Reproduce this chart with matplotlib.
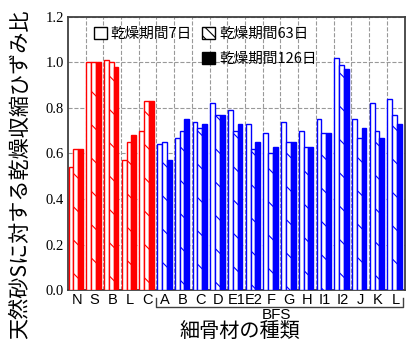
import numpy as np
import matplotlib.pyplot as plt
from matplotlib.patches import Patch
from matplotlib.transforms import blended_transform_factory

plt.rcParams['font.family'] = ['Noto Sans CJK JP', 'DejaVu Sans']
plt.rcParams['hatch.linewidth'] = 0.8

# categories (first 5 = natural / other sands, rest = BFS)
labels = ['N', 'S', 'B', 'L', 'C', 'A', 'B', 'C', 'D', 'E1', 'E2',
          'F', 'G', 'H', 'I1', 'I2', 'J', 'K', 'L']
n_red = 5
# shrinkage ratio vs natural sand S
day7 = [0.54, 1.00, 1.01, 0.57, 0.70, 0.64, 0.67, 0.74, 0.82, 0.79, 0.73,
        0.69, 0.74, 0.70, 0.75, 1.02, 0.75, 0.82, 0.84]
day63 = [0.62, 1.00, 1.00, 0.65, 0.83, 0.65, 0.70, 0.71, 0.77, 0.70, 0.62,
         0.60, 0.65, 0.63, 0.69, 0.99, 0.67, 0.70, 0.77]
day126 = [0.62, 1.00, 0.98, 0.68, 0.83, 0.57, 0.75, 0.73, 0.77, 0.73, 0.65,
          0.63, 0.65, 0.63, 0.69, 0.97, 0.71, 0.67, 0.73]
legend_labels = ['乾燥期間7日', '乾燥期間63日', '乾燥期間126日']

fig = plt.figure(figsize=(4.09, 3.43), dpi=100)
ax = fig.add_axes([0.166, 0.1545, 0.823, 0.796])

x = np.arange(len(labels))
cols = ['#ff0000'] * n_red + ['#0000ff'] * (len(labels) - n_red)
w = 0.27
off = 0.04

ax.bar(x + off, day7, width=w, align='edge', facecolor='white',
       edgecolor=cols, linewidth=1.0, zorder=3)
ax.bar(x + off + w, day63, width=w, align='edge', facecolor='white',
       edgecolor=cols, linewidth=1.0, hatch='\\', zorder=3)
ax.bar(x + off + 2 * w, day126, width=w, align='edge', color=cols,
       edgecolor=cols, linewidth=1.0, zorder=3)

ax.set_xlim(0, len(labels))
ax.set_ylim(0, 1.2)
ax.set_xticks(x + 0.5)
ax.set_xticklabels(labels, family='Liberation Sans', fontsize=10.5)
ax.set_xticks(np.arange(1, len(labels)), minor=True)
ax.set_yticks(np.arange(0, 1.21, 0.2))
ax.set_yticklabels(['%.1f' % v for v in np.arange(0, 1.21, 0.2)],
                   family='Liberation Serif', fontsize=10.5)
ax.tick_params(axis='both', which='both', length=0)
ax.tick_params(axis='x', pad=2)
ax.tick_params(axis='y', pad=3)
ax.grid(True, axis='y', which='major', linestyle='--', color='#999999', linewidth=0.8)
ax.grid(True, axis='x', which='minor', linestyle='--', color='#999999', linewidth=0.8)
ax.set_axisbelow(True)
for s in ax.spines.values():
    s.set_color('#404040')
    s.set_linewidth(1.3)

# legend: 7 day in first column, 63 and 126 day in second
h7 = Patch(facecolor='white', edgecolor='black', linewidth=1.0)
h63 = Patch(facecolor='white', edgecolor='black', linewidth=1.0, hatch='\\\\\\')
h126 = Patch(facecolor='black', edgecolor='black')
blank = Patch(alpha=0)
ax.legend([h7, blank, h63, h126], [legend_labels[0], '', legend_labels[1], legend_labels[2]],
          ncol=2, loc='upper left', bbox_to_anchor=(0.06, 0.985), frameon=False,
          fontsize=10.5, handlelength=0.9, handleheight=0.9, handletextpad=0.25,
          labelspacing=0.75, columnspacing=0.7, borderaxespad=0)

# BFS bracket under the blue group
trans = blended_transform_factory(ax.transData, ax.transAxes)
ax.plot([n_red, n_red, len(labels) - 0.07, len(labels) - 0.07],
        [-0.029, -0.062, -0.062, -0.029], color='#404040', linewidth=1.0,
        transform=trans, clip_on=False)
ax.text((n_red + len(labels)) / 2 - 0.25, -0.066, 'BFS', transform=trans,
        ha='center', va='top', family='Liberation Sans', fontsize=11)

fig.text(240 / 409, 1 - 331 / 343, '細骨材の種類', ha='center', va='center', fontsize=14.5)
fig.text(20 / 409, 1 - 174 / 343, '天然砂Sに対する乾燥収縮ひずみ比', ha='center', va='center',
         rotation=90, fontsize=15.2)

fig.savefig('out.png', dpi=100)
